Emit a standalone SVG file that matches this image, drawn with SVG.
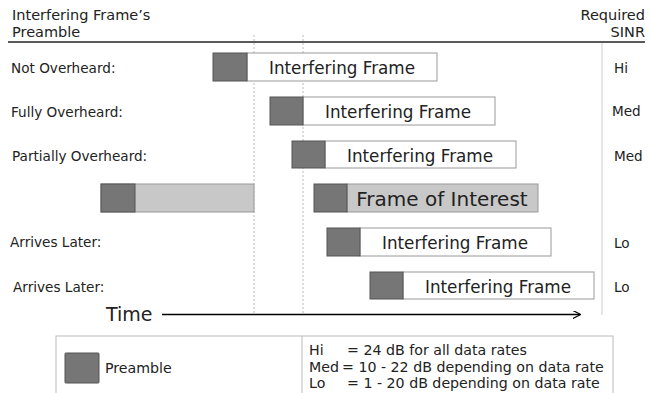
<svg xmlns="http://www.w3.org/2000/svg" width="651" height="393" viewBox="0 0 651 393">
<defs>
<style>
text{font-family:"DejaVu Sans","Liberation Sans",sans-serif;fill:#222}
.hdr{font-size:14.5px}
.lbl{font-size:13.6px}
.frm{font-size:16.8px}
.leg{font-size:14.2px}
.pre{fill:#767676;stroke:#555;stroke-width:1}
.box{fill:#fff;stroke:#999;stroke-width:1}
.foi{fill:#c8c8c8;stroke:#999;stroke-width:1}
.dash{stroke:#bbb;stroke-width:1;stroke-dasharray:2,2}
</style>
<marker id="arr" viewBox="0 0 10 10" refX="9" refY="5" markerWidth="8" markerHeight="8" orient="auto" markerUnits="userSpaceOnUse">
<path d="M0,0 L10,5 L0,10" fill="none" stroke="#000" stroke-width="1.5"/>
</marker>
</defs>
<rect width="651" height="393" fill="#fff"/>
<g id="header">
<text class="hdr" x="12" y="20">Interfering Frame’s</text>
<text class="hdr" x="12" y="37">Preamble</text>
<text class="hdr" x="645" y="20" text-anchor="end">Required</text>
<text class="hdr" x="645" y="37" text-anchor="end">SINR</text>
<line x1="8" y1="42" x2="645" y2="42" stroke="#222" stroke-width="1.5"/>
</g>
<g id="connectors">
<line class="dash" x1="254" y1="35" x2="254" y2="315"/>
<line class="dash" x1="303" y1="35" x2="303" y2="315"/>
<line x1="602" y1="43" x2="602" y2="315" stroke="#ccc" stroke-width="1"/>
<line x1="162" y1="314.5" x2="580" y2="314.5" stroke="#000" stroke-width="1.5" marker-end="url(#arr)"/>
</g>
<g id="row1">
<text class="lbl" x="11" y="73">Not Overheard:</text>
<rect class="box" x="247" y="53" width="190" height="28"/>
<rect class="pre" x="213" y="53" width="34" height="28"/>
<text class="frm" x="342" y="74" text-anchor="middle">Interfering Frame</text>
<text class="lbl" x="614" y="73">Hi</text>
</g>
<g id="row2">
<text class="lbl" x="11" y="117">Fully Overheard:</text>
<rect class="box" x="303" y="97" width="192" height="28"/>
<rect class="pre" x="270" y="97" width="33" height="28"/>
<text class="frm" x="398" y="118" text-anchor="middle">Interfering Frame</text>
<text class="lbl" x="612" y="116">Med</text>
</g>
<g id="row3">
<text class="lbl" x="12" y="161">Partially Overheard:</text>
<rect class="box" x="325" y="141" width="191" height="27"/>
<rect class="pre" x="292" y="141" width="33" height="27"/>
<text class="frm" x="420" y="162" text-anchor="middle">Interfering Frame</text>
<text class="lbl" x="614" y="161">Med</text>
</g>
<g id="row4">
<rect class="foi" x="101" y="184" width="153" height="28"/>
<rect class="pre" x="101" y="184" width="34" height="28"/>
<rect class="foi" x="347" y="184" width="191" height="28"/>
<rect class="pre" x="314" y="184" width="33" height="28"/>
<text x="442" y="206" text-anchor="middle" font-size="20px">Frame of Interest</text>
</g>
<g id="row5">
<text class="lbl" x="10" y="247">Arrives Later:</text>
<rect class="box" x="360" y="228" width="191" height="28"/>
<rect class="pre" x="327" y="228" width="33" height="28"/>
<text class="frm" x="455" y="249" text-anchor="middle">Interfering Frame</text>
<text class="lbl" x="614" y="248">Lo</text>
</g>
<g id="row6">
<text class="lbl" x="13" y="292">Arrives Later:</text>
<rect class="box" x="403" y="272" width="191" height="27"/>
<rect class="pre" x="370" y="272" width="33" height="27"/>
<text class="frm" x="498" y="293" text-anchor="middle">Interfering Frame</text>
<text class="lbl" x="614" y="292">Lo</text>
</g>
<g id="time">
<text x="106" y="321" font-size="19px">Time</text>
</g>
<g id="legend">
<rect x="56" y="336" width="557" height="62" fill="#fff" stroke="#bbb" stroke-width="1"/>
<line x1="302" y1="336" x2="302" y2="393" stroke="#bbb" stroke-width="1"/>
<rect class="pre" x="65" y="353" width="34" height="30" rx="1"/>
<text class="leg" x="105" y="373">Preamble</text>
<text class="leg" x="309" y="355">Hi</text>
<text class="leg" x="347" y="355">= 24 dB for all data rates</text>
<text class="leg" x="309" y="371.5">Med</text>
<text class="leg" x="342" y="371.5">= 10 - 22 dB depending on data rate</text>
<text class="leg" x="309" y="388">Lo</text>
<text class="leg" x="347" y="388">= 1 - 20 dB depending on data rate</text>
</g>
</svg>
